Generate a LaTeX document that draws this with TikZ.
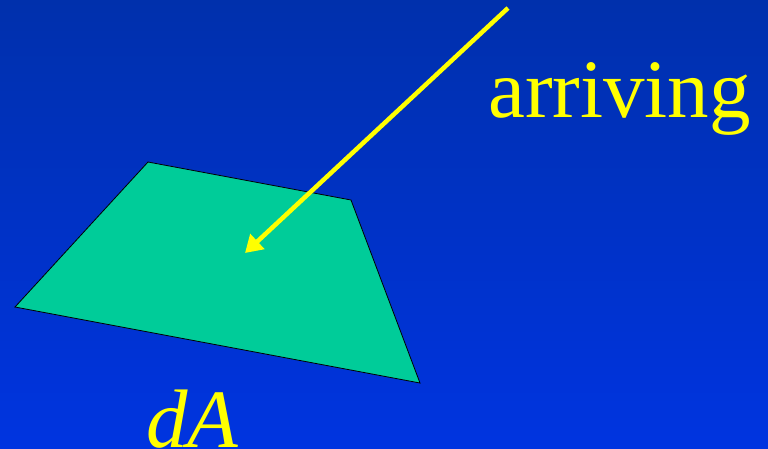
\documentclass[tikz,border=0pt]{standalone}
\usepackage{fontspec}
\setmainfont{Liberation Serif}
\usetikzlibrary{arrows.meta}
\definecolor{bgtop}{RGB}{0,48,172}
\definecolor{bgbot}{RGB}{0,52,224}
\definecolor{patch}{RGB}{0,204,153}
\definecolor{yel}{RGB}{255,255,0}
\tikzset{
  label text/.style={text=yel, font=\fontsize{83}{90}\selectfont, inner sep=0pt},
  ray/.style={draw=yel, line width=4.5pt, -{Triangle[length=17pt,width=20pt]}},
  surface/.style={fill=patch, draw=black, line width=0.8pt, line join=miter}
}
\begin{document}
\begin{tikzpicture}[x=1pt,y=-1pt]
\useasboundingbox (0,0) rectangle (768,448);
\shade[top color=bgtop, bottom color=bgbot] (0,0) rectangle (768,448);
\coordinate (p1) at (15,307);
\coordinate (p2) at (148,162);
\coordinate (p3) at (351,200);
\coordinate (p4) at (420,383);
\draw[surface] (p1) -- (p2) -- (p3) -- (p4) -- cycle;
\coordinate (start) at (508,8);
\coordinate (tip) at (245,253);
\draw[ray] (start) -- (tip);
\node[label text, anchor=base west] (arr) at (488,117) {arriving};
\node[label text, anchor=base west] (da) at (146,447) {\itshape dA};
\end{tikzpicture}
\end{document}
